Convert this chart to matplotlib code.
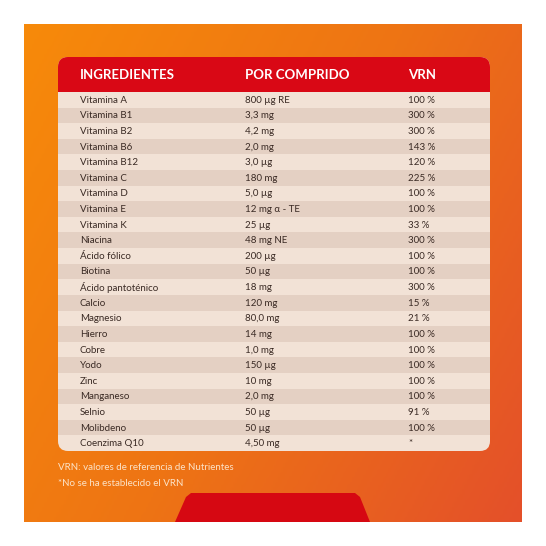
import numpy as np
import matplotlib
matplotlib.use("Agg")
import matplotlib.pyplot as plt
from matplotlib.patches import FancyBboxPatch, Rectangle, Polygon
from matplotlib.colors import LinearSegmentedColormap

headers = ["INGREDIENTES", "POR COMPRIDO", "VRN"]
ingredients = ["Vitamina A", "Vitamina B1", "Vitamina B2", "Vitamina B6", "Vitamina B12",
               "Vitamina C", "Vitamina D", "Vitamina E", "Vitamina K", "Niacina",
               "Ácido fólico", "Biotina", "Ácido pantoténico", "Calcio", "Magnesio",
               "Hierro", "Cobre", "Yodo", "Zinc", "Manganeso", "Selnio", "Molibdeno",
               "Coenzima Q10"]
amounts = ["800 µg RE", "3,3 mg", "4,2 mg", "2,0 mg", "3,0 µg", "180 mg", "5,0 µg",
           "12 mg α - TE", "25 µg", "48 mg NE", "200 µg", "50 µg", "18 mg", "120 mg",
           "80,0 mg", "14 mg", "1,0 mg", "150 µg", "10 mg", "2,0 mg", "50 µg", "50 µg",
           "4,50 mg"]
vrn = ["100 %", "300 %", "300 %", "143 %", "120 %", "225 %", "100 %", "100 %", "33 %",
       "300 %", "100 %", "100 %", "300 %", "15 %", "21 %", "100 %", "100 %", "100 %",
       "100 %", "100 %", "91 %", "100 %", "*"]
footnotes = ["VRN: valores de referencia de Nutrientes", "*No se ha establecido el VRN"]

fig = plt.figure(figsize=(5.46, 5.46), dpi=100)
ax = fig.add_axes([0, 0, 1, 1])
ax.set_xlim(0, 546); ax.set_ylim(546, 0); ax.axis("off")

# gradient background
cmap = LinearSegmentedColormap.from_list("g", ["#F78A0A", "#EE7414", "#E4502A"])
xx, yy = np.meshgrid(np.linspace(0, 1, 200), np.linspace(0, 1, 200))
grad = (xx * 0.65 + yy * 0.35)
ax.imshow(grad, cmap=cmap, extent=(24, 522, 522, 24), aspect="auto", zorder=0)

# table body
x0, x1 = 58, 490
top, head_bot, bot = 57, 92, 451
body = FancyBboxPatch((x0, top), x1 - x0, bot - top, boxstyle="round,pad=0,rounding_size=10",
                      fc="#F2E2D6", ec="none", zorder=1)
ax.add_patch(body)
head = FancyBboxPatch((x0, top), x1 - x0, head_bot - top, boxstyle="round,pad=0,rounding_size=10",
                      fc="#D90815", ec="none", zorder=2)
ax.add_patch(head)
ax.add_patch(Rectangle((x0, head_bot - 12), x1 - x0, 12, fc="#D90815", ec="none", zorder=2))

colx = [80, 245, 408]
for cx, h in zip(colx, headers):
    ax.text(cx, 75, h, color="white", fontsize=9.5, fontweight="bold", va="center",
            family="Lato", zorder=3)

n = len(ingredients)
rh = (bot - head_bot) / n
for i in range(n):
    y = head_bot + i * rh
    if i % 2 == 1:
        ax.add_patch(Rectangle((x0, y), x1 - x0, rh, fc="#E4D0C3", ec="none", zorder=1.5))
    for cx, t in zip(colx, [ingredients[i], amounts[i], vrn[i]]):
        ax.text(cx, y + rh / 2 + 0.5, t, color="#3A2A24", fontsize=7, va="center",
                family="Lato", zorder=3)

for j, t in enumerate(footnotes):
    ax.text(58, 468 + j * 16, t, color="#FCE3C8", fontsize=7, va="center", family="Lato", zorder=3)

ax.add_patch(Polygon([(175, 522), (186, 497), (191, 493), (355, 493), (360, 497), (370, 522)],
                     closed=True, fc="#D60812", ec="none", zorder=2))

fig.savefig("out.png", dpi=100, facecolor="white")
